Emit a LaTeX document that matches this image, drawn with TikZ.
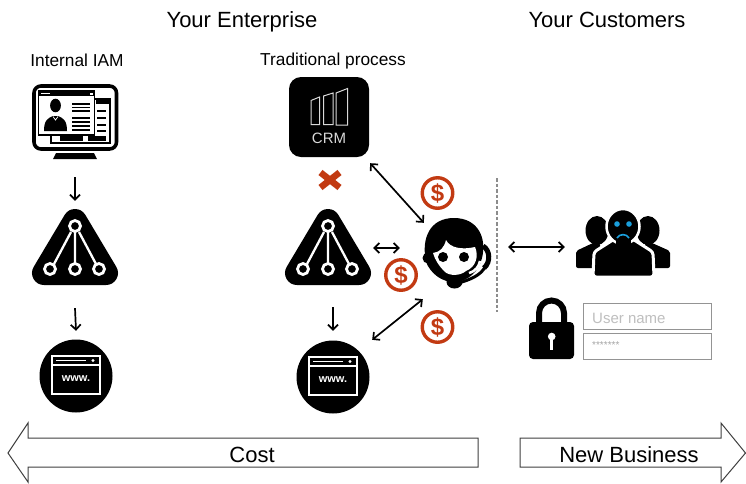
\documentclass[tikz,border=0pt]{standalone}
\usepackage{fontspec}
\setmainfont{Liberation Sans}
\usetikzlibrary{arrows.meta}
\definecolor{redc}{HTML}{C23A12}
\definecolor{bluec}{HTML}{1A9FDC}
\tikzset{
  x=1pt,y=-1pt,
  conn/.style={line width=1.7pt,{Straight Barb[length=5pt,width=10pt]}-{Straight Barb[length=5pt,width=10pt]}},
  connone/.style={line width=1.7pt,-{Straight Barb[length=5pt,width=10pt]}},
  heading/.style={font=\fontsize{22}{26}\selectfont,inner sep=0pt},
  sublabel/.style={font=\fontsize{17.3}{20}\selectfont,inner sep=0pt},
  barlabel/.style={font=\fontsize{22}{26}\selectfont,inner sep=0pt},
  bigarrow/.style={draw=black!75,line width=1pt,fill=white,line join=miter},
  dollar/.style={circle,draw=redc,line width=3.4pt,fill=white,text=redc,minimum size=30.5pt,inner sep=0pt,font=\bfseries\fontsize{24}{25}\selectfont},
  inputbox/.style={draw=black!42,line width=1pt,fill=white},
  inputtext/.style={text=black!25,inner sep=0pt,anchor=west,font=\fontsize{15}{17}\selectfont},
  pics/trianglenet/.style={code={
    \fill[black,draw=black,line width=24pt,line join=round] (0,-26) -- (-31,26) -- (31,26) -- cycle;
    \draw[white,line width=2.3pt] (0,-21) -- (0,22) (-4,-15) -- (-21,17) (4,-15) -- (21,17);
    \foreach \p in {(0,-21),(-25,22),(0,22),(24,22)}
      \filldraw[draw=white,fill=black,line width=2.8pt] \p circle (5.5);
  }},
  pics/webicon/.style={code={
    \fill[black] (0,0) circle (36.5);
    \draw[white,line width=1.6pt] (-24,-20) rectangle (24,18);
    \draw[white,line width=1.2pt] (-24,-11) -- (24,-11);
    \draw[white,line width=1.6pt] (-20,-15.5) -- (10,-15.5);
    \fill[white] (17,-15.5) circle (1.6);
    \node[text=white,inner sep=0pt,font=\bfseries\fontsize{11}{12}\selectfont] at (0,3) {www.};
  }}
}
\begin{document}
\begin{tikzpicture}
\useasboundingbox (0,0) rectangle (746,483);
\fill[white] (0,0) rectangle (746,483);

% headings
\node[heading] (entH) at (242,21.5) {Your Enterprise};
\node[heading] (cusH) at (607,20) {Your Customers};
\node[sublabel] (iamL) at (77,60) {Internal IAM};
\node[sublabel] (tradL) at (333,61) {Traditional process};

% anchor nodes
\node[inner sep=0pt,minimum width=86pt,minimum height=76pt] (mon) at (75,121) {};
\node[inner sep=0pt,minimum width=86pt,minimum height=76pt] (triA) at (75,247) {};
\node[inner sep=0pt,minimum width=74pt,minimum height=74pt] (webA) at (76,376) {};
\node[inner sep=0pt,minimum width=80pt,minimum height=80pt] (crm) at (329,117) {};
\node[inner sep=0pt,minimum width=86pt,minimum height=76pt] (triB) at (328,247) {};
\node[inner sep=0pt,minimum width=74pt,minimum height=74pt] (webB) at (333,377) {};
\node[inner sep=0pt,minimum width=64pt,minimum height=72pt] (agent) at (457,254) {};
\node[inner sep=0pt,minimum width=94pt,minimum height=64pt] (cust) at (623,243) {};

% monitor
\draw[black,line width=3.6pt,rounded corners=7pt] (34,86) rectangle (116.5,149);
\fill[black] (56,153) -- (94,153) -- (97,159) -- (53,159) -- cycle;
\draw[black,line width=1.4pt,fill=white] (51,99) rectangle (110,143);
\fill[black] (96,99) rectangle (110,104);
\foreach \yy in {111,118,125,131} \draw[black,line width=1.8pt] (97,\yy) -- (106,\yy);
\fill[black] (60,136) rectangle (83,141);
\fill[black] (88,136) rectangle (106,141);
\draw[black,line width=1.4pt,fill=white] (38.5,91) rectangle (94.5,135);
\fill[black] (38.5,91) rectangle (94.5,96);
\fill[white] (41,92.5) rectangle (50,94);
\fill[white] (90,92.5) rectangle (92.5,94.5);
\fill[black] (55.5,105.5) ellipse (5.4 and 6.8);
\fill[black] (44,131) .. controls (44,120) and (48,118) .. (53,116) -- (58,116) .. controls (63,118) and (67,120) .. (67,131) -- cycle;
\draw[white,line width=.7pt] (53,116.5) -- (55.5,120) -- (58,116.5);
\foreach \yy/\ww in {103.5/2,107.5/1.5,111/1.5,118/1.5,122/1.5,126/1.5,130/1.5}
  \draw[black,line width=\ww pt] (72,\yy) -- (90,\yy);

% triangles and web icons
\pic at (75,247) {trianglenet};
\pic at (328,247) {trianglenet};
\pic at (76,376) {webicon};
\pic at (333,377) {webicon};

% CRM
\fill[black,rounded corners=12pt] (289,77) rectangle (369,157);
\draw[white!85!black,line width=1pt,line join=miter]
  (311,100.5) -- (319.5,97) -- (319.5,124.5) -- (311,124.5) -- cycle
  (323.5,96) -- (333,93) -- (333,124.5) -- (323.5,124.5) -- cycle
  (336,93) -- (347.5,88.5) -- (347.5,125) -- (336,125) -- cycle;
\node[text=white!85!black,inner sep=0pt,font=\fontsize{15}{16}\selectfont] (crmT) at (329,138) {CRM};

% red cross
\draw[redc,line width=6.5pt] (320.5,172.5) -- (339.5,187.5) (339.5,172.5) -- (320.5,187.5);

% agent
\fill[black] (426,262) .. controls (421,238) and (430,218) .. (454,218) .. controls (478,218) and (487,238) .. (482,258) .. controls (479,271) and (468,282) .. (454,282) .. controls (442,282) and (431,274) .. (426,262) -- cycle;
\fill[black] (428,258) circle (5.5);
\fill[white] (433,253) .. controls (440,252) and (444,248) .. (446,240) .. controls (450,248) and (462,250) .. (475,247) .. controls (479,256) and (476,267) .. (466,271) .. controls (460,276) and (450,276) .. (445,272) .. controls (439,266) and (435,260) .. (433,253) -- cycle;
\fill[black] (443,257) circle (5) (464,257) circle (5);
\draw[black,line width=5pt] (483,246) .. controls (490,250) and (491,262) .. (484,268);
\draw[white,line width=2.5pt] (469,273) .. controls (476,271) and (479,266) .. (480,261);
\draw[black,line width=3pt] (485,267) .. controls (481,275) and (470,280) .. (458,283);
\fill[black] (454.5,282) ellipse (8 and 6.5);

% dollars
\node[dollar] (d1) at (437.5,193) {\$};
\node[dollar] (d2) at (401,275) {\$};
\node[dollar] (d3) at (437.5,327) {\$};

% customers
\fill[black] (597,230.5) ellipse (11.5 and 14.5);
\fill[black,rounded corners=2pt] (593,243) -- (576,251) -- (576,268) -- (600,268) -- (600,243) -- cycle;
\fill[black] (648,230.5) ellipse (11.5 and 14.5);
\fill[black,rounded corners=2pt] (652,243) -- (670,251) -- (670,268) -- (645,268) -- (645,243) -- cycle;
\filldraw[black,draw=white,line width=3pt,rounded corners=3pt] (616,238) -- (594,252) -- (593,277) -- (654,277) -- (653,252) -- (631,238) -- cycle;
\filldraw[black,draw=white,line width=2.5pt] (623,226.5) ellipse (16.5 and 17.5);
\fill[black] (616,238) rectangle (631,248);
\fill[bluec] (617,224) circle (2.8) (629,224) circle (2.8);
\draw[bluec,line width=1.6pt] (617,238) .. controls (619,233.5) and (627,233.5) .. (629,238);

% lock
\draw[black,line width=6pt] (539,324) -- (539,313) arc[start angle=180,end angle=0,x radius=12.5,y radius=-12.5] -- (564,324);
\fill[black,rounded corners=4pt] (529,322) rectangle (574,359);
\fill[white] (551.7,336.5) circle (3.8);
\fill[white] (550,337) rectangle (553.4,350);

% login boxes
\node[inputbox,inner sep=0pt,minimum width=128pt,minimum height=26pt] (uname) at (647,316) {};
\node[inputbox,inner sep=0pt,minimum width=128pt,minimum height=26pt] (pword) at (647,346) {};
\node[inputtext] (unameT) at (592,318) {User name};
\node[inputtext,font=\fontsize{10}{12}\selectfont,text=black!35] (pwordT) at (592,345) {*******};

% dashed divider
\coordinate (divTop) at (497,178);
\coordinate (divBot) at (497,312);
\draw[black!45,line width=1.2pt,dash pattern=on 3.5pt off 2pt] (divTop) -- (divBot);

% connectors
\draw[connone] ([yshift=-18pt]mon.south) -- ([yshift=8pt]triA.north);
\draw[connone] ([yshift=-23pt]triA.south) -- ([yshift=8pt]webA.north);
\draw[connone] ([yshift=-22pt]triB.south -| webB.north) -- ([yshift=9pt]webB.north);
\draw[conn] ([xshift=1pt,yshift=-6pt]crm.south east) -- ([xshift=-1pt,yshift=-5pt]agent.north west);
\draw[conn] ([xshift=2pt,yshift=-1pt]triB.east) -- ([xshift=-25pt,yshift=6pt]agent.west);
\draw[conn] ([xshift=2pt,yshift=0pt]webB.north east) -- ([xshift=-2pt,yshift=-9pt]agent.south west);
\draw[conn] ([xshift=19pt,yshift=7pt]agent.east) -- ([xshift=-11pt,yshift=-4pt]cust.west);

% bottom arrows
\draw[bigarrow] (8,453) -- (28,423) -- (28,438) -- (478,438) -- (478,467) -- (28,467) -- (28,482) -- cycle;
\draw[bigarrow] (520,438) -- (721,438) -- (721,423) -- (745.5,453) -- (721,482) -- (721,467) -- (520,467) -- cycle;
\node[barlabel] (costL) at (252,455) {Cost};
\node[barlabel] (newL) at (629,455) {New Business};
\end{tikzpicture}
\end{document}
